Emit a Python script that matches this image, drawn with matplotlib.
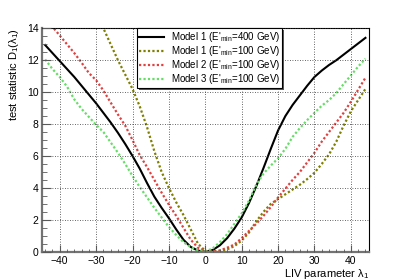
import numpy as np
import matplotlib
matplotlib.use("Agg")
import matplotlib.pyplot as plt
from matplotlib.ticker import MultipleLocator
import matplotlib.patheffects as pe

plt.rcParams['font.family'] = ['Liberation Sans', 'DejaVu Sans']
plt.rcParams['mathtext.fontset'] = 'custom'
plt.rcParams['mathtext.rm'] = 'Liberation Sans'
plt.rcParams['mathtext.it'] = 'Liberation Sans:italic'

# LIV parameter grid (step 2)
lam = np.arange(-44, 45, 2)

# Model 1, E'min = 400 GeV (solid black)
m1_400 = [12.95, 12.45, 11.95, 11.45, 10.95, 10.4, 9.85, 9.3, 8.7, 8.1, 7.45, 6.75,
          6.0, 5.2, 4.3, 3.45, 2.75, 2.1, 1.4, 0.75, 0.3, 0.07, 0.0,
          0.1, 0.4, 0.85, 1.45, 2.15, 3.05, 4.1, 5.25, 6.45, 7.6, 8.5, 9.2,
          9.8, 10.4, 10.95, 11.35, 11.7, 12.0, 12.35, 12.7, 13.05, 13.4]
# Model 1, E'min = 100 GeV (olive)
m1_100 = [np.nan, np.nan, np.nan, np.nan, np.nan, np.nan, np.nan, 14.9, 14.0, 13.0, 12.0, 11.1,
          10.2, 9.1, 7.8, 6.3, 5.0, 4.0, 3.1, 2.3, 1.4, 0.5, 0.05,
          0.0, 0.05, 0.15, 0.35, 0.7, 1.2, 1.9, 2.5, 3.0, 3.3, 3.6, 3.9,
          4.2, 4.55, 4.95, 5.5, 6.1, 6.9, 7.9, 8.8, 9.5, 10.2]
# Model 2, E'min = 100 GeV (red)
m2_100 = [14.6, 14.1, 13.55, 13.0, 12.45, 11.85, 11.2, 10.75, 10.1, 9.35, 8.6, 7.9,
          7.0, 6.05, 5.3, 4.5, 3.7, 2.95, 2.25, 1.5, 0.75, 0.25, 0.05,
          0.0, 0.08, 0.25, 0.45, 0.85, 1.3, 1.75, 2.25, 2.8, 3.4, 3.95, 4.5,
          5.0, 5.6, 6.2, 6.9, 7.5, 8.1, 8.7, 9.4, 10.15, 10.9]
# Model 3, E'min = 100 GeV (green)
m3_100 = [12.05, 11.45, 10.95, 10.35, 9.55, 8.95, 8.45, 7.95, 7.5, 6.85, 6.2, 5.5,
          4.75, 4.05, 3.4, 2.75, 2.15, 1.55, 1.05, 0.6, 0.3, 0.08, 0.02,
          0.2, 0.6, 1.1, 1.75, 2.4, 3.2, 4.2, 4.9, 5.4, 5.85, 6.45, 7.2,
          7.75, 8.25, 8.7, 9.15, 9.5, 9.95, 10.5, 11.05, 11.6, 12.1]

labels = ["Model 1 (E'$_{\\mathrm{min}}$=400 GeV)",
          "Model 1 (E'$_{\\mathrm{min}}$=100 GeV)",
          "Model 2 (E'$_{\\mathrm{min}}$=100 GeV)",
          "Model 3 (E'$_{\\mathrm{min}}$=100 GeV)"]

fig = plt.figure(figsize=(4.11, 2.80), dpi=100)
ax = fig.add_axes([0.101, 0.101, 0.797, 0.798])

dot = (0, (1, 1))
ax.plot(lam, m1_400, color='black', lw=1.5, label=labels[0])
ax.plot(lam, m1_100, color='#7f7f00', lw=1.6, ls=dot, label=labels[1])
ax.plot(lam, m2_100, color='#e04040', lw=1.6, ls=dot, label=labels[2])
ax.plot(lam, m3_100, color='#66dd66', lw=1.6, ls=dot, label=labels[3])

ax.set_xlim(-45, 45)
ax.set_ylim(0, 14)
ax.xaxis.set_major_locator(MultipleLocator(10))
ax.xaxis.set_minor_locator(MultipleLocator(2))
ax.yaxis.set_major_locator(MultipleLocator(2))
ax.yaxis.set_minor_locator(MultipleLocator(0.5))

ax.tick_params(which='both', direction='in', colors='0.35', labelcolor='black',
               labelsize=7.5, top=False, right=False)
ax.tick_params(axis='x', which='major', length=4.8, pad=3)
ax.tick_params(axis='x', which='minor', length=2.4)
ax.tick_params(axis='y', which='major', length=6.5, pad=2)
ax.tick_params(axis='y', which='minor', length=3.3)

ax.grid(True, which='major', color='0.2', ls=(0, (1, 2)), lw=0.6)
ax.set_axisbelow(False)

for s in ['top', 'right']:
    ax.spines[s].set_color('black')
    ax.spines[s].set_linewidth(0.8)
for s in ['left', 'bottom']:
    ax.spines[s].set_color('0.45')
    ax.spines[s].set_linewidth(1.6)

ax.set_xlabel("LIV parameter λ$_1$", fontsize=8, loc='right', labelpad=1)
ax.set_ylabel("test statistic D$_1$(λ$_1$)", fontsize=8, loc='top', labelpad=4)

leg = ax.legend(loc='upper left', bbox_to_anchor=(0.291, 1.0), fontsize=7,
                frameon=True, fancybox=False, shadow=False, framealpha=1,
                borderpad=0.2, handlelength=2.6, handletextpad=0.7,
                labelspacing=0.0, borderaxespad=0)
leg.set_zorder(5)
frame = leg.get_frame()
frame.set_facecolor('white')
frame.set_edgecolor('black')
frame.set_linewidth(0.8)
frame.set_path_effects([pe.SimplePatchShadow(offset=(1.5, -1.5), shadow_rgbFace='0.35', alpha=1),
                        pe.Normal()])

fig.savefig("out.png", dpi=100)
